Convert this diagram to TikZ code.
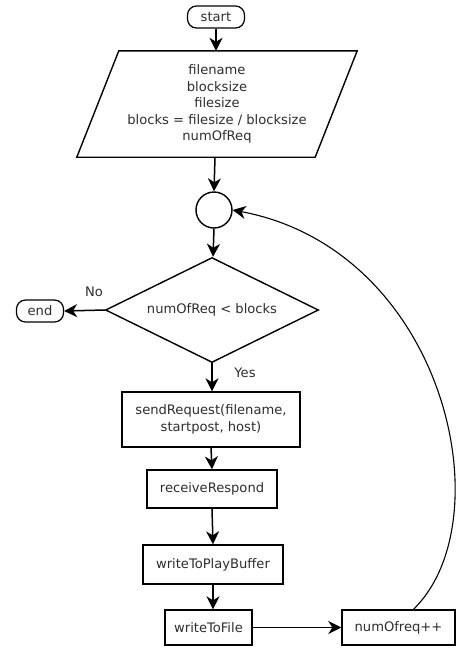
\documentclass[tikz,border=0pt]{standalone}
\usepackage{fontspec}
\setmainfont{DejaVu Sans}
\usetikzlibrary{shapes.geometric,arrows.meta}
\definecolor{txt}{RGB}{45,45,45}
\begin{document}
\begin{tikzpicture}[x=1pt,y=-1pt,
  every node/.style={font=\fontsize{13.1}{16.4}\selectfont, text=txt, inner sep=0pt},
  term/.style={draw, line width=1.2pt, rounded corners=9pt, minimum height=22pt},
  proc/.style={draw, line width=1.4pt, align=center},
  arr/.style={line width=1.5pt, -{Stealth[length=13pt,width=13pt,inset=4pt]}},
  loopline/.style={line width=1.1pt, -{Stealth[length=13pt,width=13pt,inset=4pt]}}]
\useasboundingbox (0,0) rectangle (457,649);
% nodes
\node[term, minimum width=57pt] (start) at (216,17) {start};
\node[align=center, minimum width=238pt, minimum height=106pt] (inp) at (217,104)
  {filename\\blocksize\\filesize\\blocks = filesize / blocksize\\numOfReq};
\draw[line width=1.4pt] ([xshift=21pt]inp.north west) -- ([xshift=21pt]inp.north east)
  -- ([xshift=-21pt]inp.south east) -- ([xshift=-21pt]inp.south west) -- cycle;
\node[draw, circle, line width=1.4pt, minimum size=36pt] (join) at (214,210) {};
\node[draw, diamond, aspect=2, line width=1.4pt, minimum width=213pt, minimum height=105pt] (dec) at (212,310) {numOfReq < blocks};
\node[term, minimum width=47pt] (end) at (40,311) {end};
\node[proc, minimum width=178pt, minimum height=55pt] (send) at (211,419.5) {sendRequest(filename,\\startpost, host)};
\node[proc, minimum width=130pt, minimum height=38pt] (recv) at (212,489) {receiveRespond};
\node[proc, minimum width=140pt, minimum height=39pt] (play) at (213,564.5) {writeToPlayBuffer};
\node[proc, minimum width=87pt, minimum height=35pt] (file) at (208.5,627.5) {writeToFile};
\node[proc, minimum width=113pt, minimum height=35pt] (inc) at (398.5,627.5) {numOfreq++};
\node (no) at (94,292) {No};
\node (yes) at (245,373) {Yes};
% connectors
\draw[arr] (start.south) -- ([xshift=-1pt]inp.north);
\draw[arr] ([xshift=-2pt]inp.south) -- (join.north);
\draw[arr] (join.south) -- ([xshift=1pt]dec.north);
\draw[arr] (dec.west) -- (end.east);
\draw[arr] (dec.south) -- ([xshift=1pt]send.north);
\draw[arr] (send.south) -- (recv.north);
\draw[arr] (recv.south) -- (play.north);
\draw[arr] (play.south) -- ([xshift=4.5pt]file.north);
\draw[arr] (file.east) -- (inc.west);
\draw[loopline] ([xshift=15pt]inc.north) .. controls (505,520) and (445,250) .. (join.east);
\end{tikzpicture}
\end{document}
